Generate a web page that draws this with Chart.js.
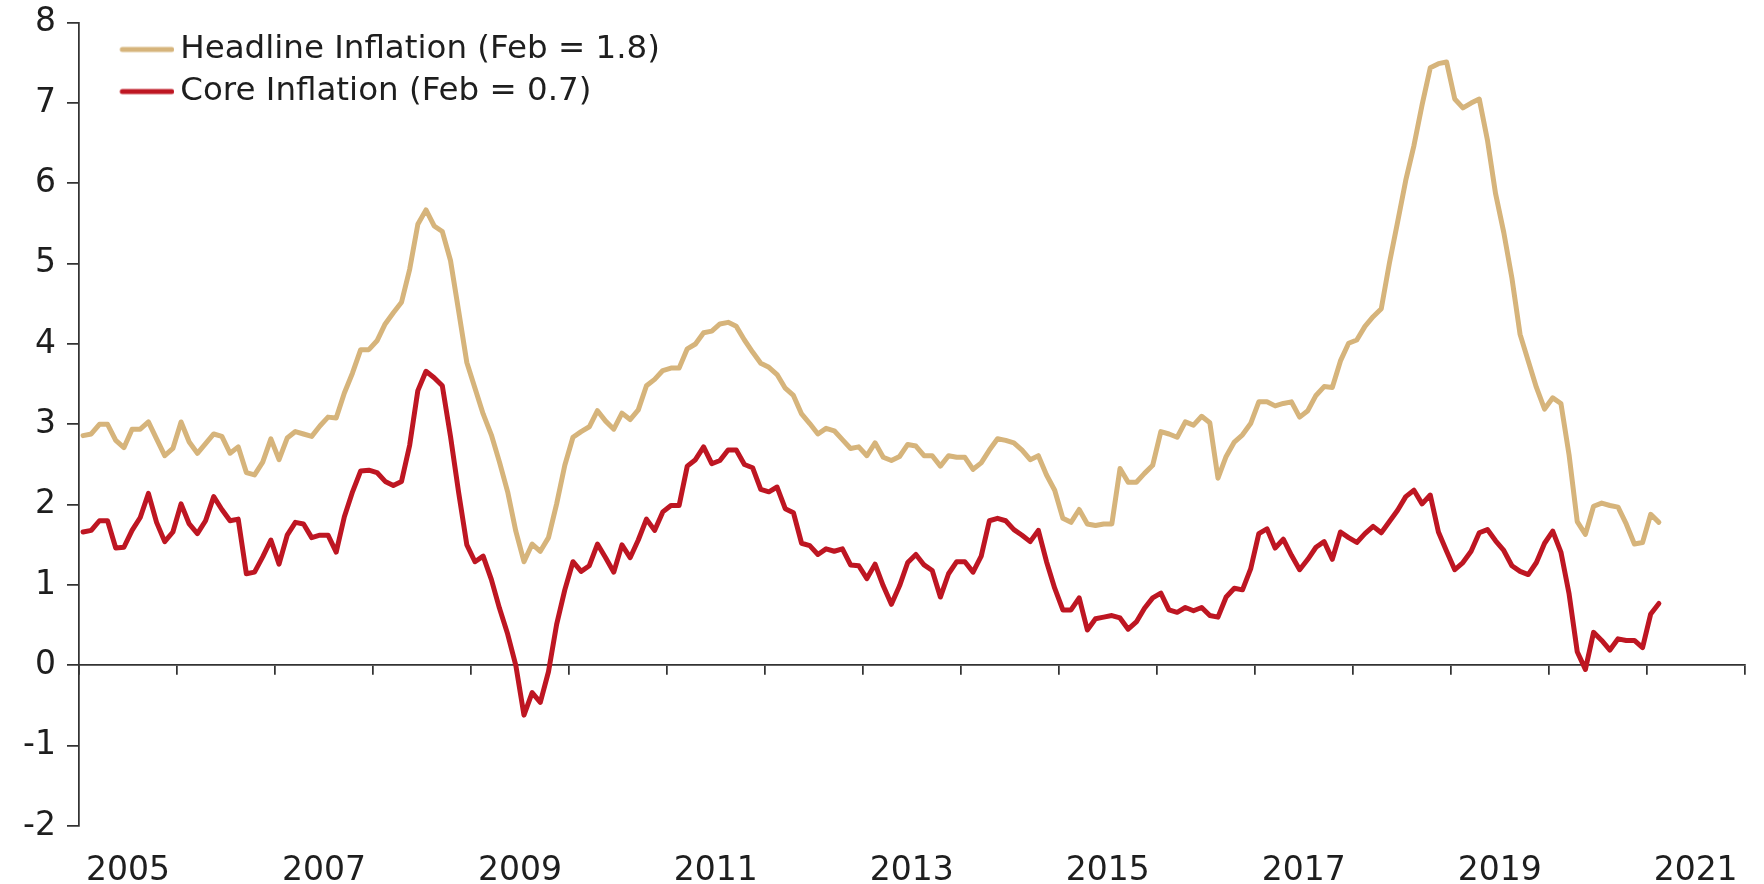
<!DOCTYPE html>
<html>
<head>
<meta charset="utf-8">
<script src="https://cdn.jsdelivr.net/npm/chart.js@4.4.1/dist/chart.umd.min.js"></script>
<style>
  html, body { margin: 0; padding: 0; background: #ffffff; }
  #c { display: block; }
</style>
</head>
<body>
<canvas id="c" width="1764" height="884"></canvas>
<script>
// ---- Data (monthly, Jan 2005 – Feb 2021) ----
const startYear = 2005;
const yearLabels = ['2005', '2007', '2009', '2011', '2013', '2015', '2017', '2019', '2021'];
const yTicks = [-2, -1, 0, 1, 2, 3, 4, 5, 6, 7, 8];

const headline = [
  2.86, 2.88, 3.00, 3.00, 2.80, 2.71, 2.94, 2.94, 3.03, 2.82, 2.61, 2.70, // 2005
  3.03, 2.78, 2.64, 2.76, 2.88, 2.85, 2.64, 2.72, 2.40, 2.37, 2.53, 2.82, // 2006
  2.56, 2.83, 2.91, 2.88, 2.85, 2.98, 3.09, 3.08, 3.39, 3.64, 3.93, 3.93, // 2007
  4.04, 4.25, 4.39, 4.52, 4.93, 5.49, 5.67, 5.47, 5.40, 5.04, 4.41, 3.77, // 2008
  3.45, 3.13, 2.87, 2.53, 2.16, 1.67, 1.29, 1.51, 1.42, 1.59, 2.01, 2.49, // 2009
  2.84, 2.91, 2.97, 3.17, 3.04, 2.94, 3.14, 3.06, 3.18, 3.48, 3.56, 3.67, // 2010
  3.70, 3.70, 3.94, 4.00, 4.14, 4.16, 4.25, 4.27, 4.22, 4.05, 3.90, 3.76, // 2011
  3.71, 3.62, 3.45, 3.36, 3.13, 3.01, 2.88, 2.95, 2.92, 2.81, 2.70, 2.72, // 2012
  2.61, 2.77, 2.59, 2.55, 2.60, 2.75, 2.73, 2.61, 2.61, 2.48, 2.61, 2.59, // 2013
  2.59, 2.44, 2.52, 2.68, 2.82, 2.80, 2.77, 2.68, 2.56, 2.61, 2.37, 2.18, // 2014
  1.83, 1.78, 1.94, 1.76, 1.74, 1.76, 1.76, 2.45, 2.28, 2.28, 2.39, 2.49, // 2015
  2.91, 2.88, 2.84, 3.03, 2.99, 3.10, 3.02, 2.33, 2.60, 2.78, 2.87, 3.01, // 2016
  3.28, 3.28, 3.23, 3.26, 3.28, 3.09, 3.17, 3.36, 3.47, 3.46, 3.79, 4.01, // 2017
  4.05, 4.22, 4.34, 4.44, 5.01, 5.52, 6.04, 6.47, 6.98, 7.44, 7.49, 7.51, // 2018
  7.05, 6.94, 7.00, 7.05, 6.54, 5.87, 5.39, 4.82, 4.12, 3.79, 3.46, 3.19, // 2019
  3.33, 3.26, 2.62, 1.79, 1.63, 1.98, 2.02, 1.99, 1.97, 1.76, 1.51, 1.53, // 2020
  1.88, 1.78                                                              // 2021
];

const core = [
  1.66, 1.68, 1.80, 1.80, 1.46, 1.47, 1.68, 1.84, 2.14, 1.78, 1.54, 1.66, // 2005
  2.01, 1.76, 1.64, 1.80, 2.10, 1.94, 1.80, 1.82, 1.14, 1.16, 1.35, 1.56, // 2006
  1.26, 1.62, 1.78, 1.76, 1.59, 1.62, 1.62, 1.41, 1.85, 2.16, 2.42, 2.43, // 2007
  2.40, 2.29, 2.24, 2.29, 2.74, 3.42, 3.66, 3.58, 3.48, 2.85, 2.15, 1.50, // 2008
  1.29, 1.36, 1.07, 0.71, 0.39, 0.00, -0.62, -0.34, -0.46, -0.08, 0.51, 0.94, // 2009
  1.29, 1.17, 1.24, 1.51, 1.34, 1.16, 1.50, 1.34, 1.56, 1.82, 1.68, 1.91, // 2010
  1.99, 1.99, 2.48, 2.56, 2.72, 2.51, 2.55, 2.68, 2.68, 2.50, 2.46, 2.19, // 2011
  2.16, 2.22, 1.95, 1.90, 1.52, 1.49, 1.38, 1.45, 1.42, 1.45, 1.25, 1.24, // 2012
  1.08, 1.26, 0.99, 0.76, 0.99, 1.28, 1.38, 1.25, 1.18, 0.85, 1.14, 1.29, // 2013
  1.29, 1.16, 1.36, 1.80, 1.83, 1.80, 1.69, 1.62, 1.54, 1.68, 1.29, 0.96, // 2014
  0.69, 0.69, 0.84, 0.44, 0.58, 0.60, 0.62, 0.59, 0.45, 0.54, 0.71, 0.84, // 2015
  0.90, 0.69, 0.66, 0.72, 0.68, 0.72, 0.62, 0.60, 0.85, 0.96, 0.94, 1.20, // 2016
  1.64, 1.70, 1.46, 1.57, 1.37, 1.19, 1.32, 1.47, 1.54, 1.32, 1.66, 1.59, // 2017
  1.53, 1.64, 1.73, 1.65, 1.79, 1.93, 2.10, 2.18, 2.01, 2.12, 1.66, 1.42, // 2018
  1.19, 1.28, 1.42, 1.65, 1.69, 1.55, 1.43, 1.24, 1.17, 1.13, 1.28, 1.52, // 2019
  1.67, 1.41, 0.89, 0.17, -0.05, 0.41, 0.31, 0.19, 0.33, 0.31, 0.31, 0.22, // 2020
  0.64, 0.77                                                              // 2021
];

const seriesNames = ['Headline Inflation (Feb = 1.8)', 'Core Inflation (Feb = 0.7)'];

// month categories, e.g. "2005-01"
const months = headline.map((_, i) =>
  (startYear + Math.floor(i / 12)) + '-' + String(i % 12 + 1).padStart(2, '0'));

// ---- Styling ----
const TAN = '#D6B47B';
const RED = '#BE1622';
const AXIS = '#333333';
const TEXT = '#1e1e1e';
const FONT = 'DejaVu Sans';
const LINE_W = 5;

// month label -> position on a continuous year axis (centre of the month)
const monthToX = (m) => { const [y, mo] = m.split('-').map(Number); return y + (mo - 0.5) / 12; };
const toPoints = (vals) => vals.map((v, i) => ({ x: monthToX(months[i]), y: v }));

// legend sample: short thick line, drawn at the right part of a transparent strip
function swatch(color) {
  const c = document.createElement('canvas');
  c.width = 96; c.height = 10;
  const g = c.getContext('2d');
  g.strokeStyle = color; g.lineWidth = LINE_W; g.lineCap = 'round';
  g.beginPath(); g.moveTo(44, 5); g.lineTo(93.5, 5); g.stroke();
  return c;
}
const swatches = [TAN, RED].map(swatch);

new Chart(document.getElementById('c'), {
  type: 'line',
  data: {
    datasets: [
      { label: seriesNames[0], data: toPoints(headline), borderColor: TAN, backgroundColor: TAN,
        borderWidth: LINE_W, pointRadius: 0, tension: 0, borderJoinStyle: 'round', borderCapStyle: 'round',
        xAxisID: 'x', yAxisID: 'y' },
      { label: seriesNames[1], data: toPoints(core), borderColor: RED, backgroundColor: RED,
        borderWidth: LINE_W, pointRadius: 0, tension: 0, borderJoinStyle: 'round', borderCapStyle: 'round',
        xAxisID: 'x', yAxisID: 'y' }
    ]
  },
  options: {
    responsive: false,
    animation: false,
    devicePixelRatio: 1,
    layout: { padding: { top: 22.7, right: 13, bottom: 0, left: 0 } },
    scales: {
      x: {
        type: 'linear', position: 'bottom', min: 2005, max: 2022,
        afterBuildTicks: (s) => { s.ticks = yearLabels.map(l => ({ value: Number(l) + 0.5 })); },
        afterFit: (s) => { s.height = 58; },
        grid: { display: false, drawTicks: false },
        border: { display: false },
        ticks: {
          autoSkip: false, maxRotation: 0, minRotation: 0, padding: 26, color: TEXT,
          font: { family: FONT, size: 33, lineHeight: 1.2 },
          callback: (v, i) => yearLabels[i]
        }
      },
      xz: {
        type: 'linear', position: { y: 0 }, min: 2005, max: 2022,
        ticks: { display: false, stepSize: 1 },
        grid: { drawOnChartArea: false, drawTicks: true, tickLength: 9, color: AXIS, lineWidth: 1.75 },
        border: { display: true, color: AXIS, width: 1.75 }
      },
      y: {
        type: 'linear', position: 'left', min: -2, max: 8,
        afterBuildTicks: (s) => { s.ticks = yTicks.map(v => ({ value: v })); },
        afterFit: (s) => { s.width = 79; },
        grid: { drawOnChartArea: false, drawTicks: true, tickLength: 12, color: AXIS, lineWidth: 1.75 },
        border: { display: true, color: AXIS, width: 1.75 },
        ticks: { padding: 11, color: TEXT, font: { family: FONT, size: 33, lineHeight: 0.65 } }
      }
    },
    plugins: {
      tooltip: { enabled: false },
      legend: {
        position: 'chartArea', align: 'start',
        title: { display: true, text: '', font: { size: 1, lineHeight: 1 }, padding: { top: 22.6, bottom: 0 } },
        labels: {
          usePointStyle: true, pointStyleWidth: 75.4, padding: 9.6, color: TEXT,
          font: { family: FONT, size: 32.5 },
          generateLabels: (chart) => chart.data.datasets.map((ds, i) => ({
            text: ds.label, pointStyle: swatches[i], fillStyle: ds.borderColor,
            strokeStyle: ds.borderColor, lineWidth: 0, hidden: false, datasetIndex: i, fontColor: TEXT
          }))
        }
      }
    }
  }
});
</script>
</body>
</html>
